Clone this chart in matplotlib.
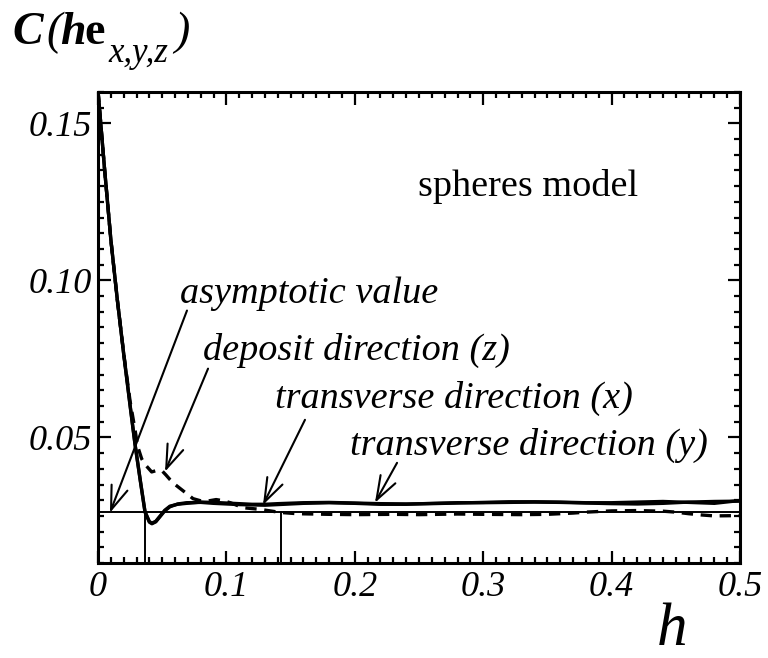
import numpy as np
import matplotlib
matplotlib.use("Agg")
import matplotlib.pyplot as plt
from matplotlib.ticker import MultipleLocator

plt.rcParams['font.family'] = ['Liberation Serif', 'DejaVu Serif']

# deposit direction (z), dashed
h_z = [0.0, 0.005, 0.010, 0.015, 0.020, 0.025, 0.0288, 0.031, 0.034, 0.0366, 0.0418, 0.046, 0.050,
       0.053, 0.056, 0.060, 0.065, 0.070, 0.074, 0.080, 0.085, 0.092, 0.098, 0.103, 0.113,
       0.126, 0.142, 0.155, 0.18, 0.20, 0.23, 0.25, 0.28, 0.30, 0.33, 0.35, 0.37, 0.38,
       0.40, 0.42, 0.44, 0.45, 0.46, 0.47, 0.48, 0.50]
c_z = [0.1604, 0.136, 0.113, 0.094, 0.0768, 0.0615, 0.0525, 0.0470, 0.0432, 0.0414, 0.0390, 0.0395, 0.0393,
       0.0380, 0.0366, 0.0350, 0.0334, 0.0318, 0.0305, 0.0298, 0.0297, 0.0302, 0.0298, 0.0292, 0.0276,
       0.0271, 0.0261, 0.0257, 0.0255, 0.0254, 0.0255, 0.0254, 0.0256, 0.0255, 0.0254, 0.0255, 0.0259, 0.0262,
       0.0266, 0.0267, 0.0265, 0.0262, 0.0257, 0.0253, 0.0250, 0.0251]

# transverse direction (x), solid
h_x = [0.0, 0.005, 0.010, 0.015, 0.020, 0.025, 0.0288, 0.033, 0.0366, 0.040, 0.042, 0.045, 0.048,
       0.052, 0.056, 0.062, 0.069, 0.08, 0.09, 0.10, 0.11, 0.12, 0.13, 0.14, 0.16, 0.18, 0.20,
       0.22, 0.24, 0.26, 0.28, 0.30, 0.32, 0.34, 0.36, 0.38, 0.40, 0.42, 0.44, 0.46, 0.48, 0.50]
c_x = [0.1604, 0.136, 0.113, 0.094, 0.0765, 0.0600, 0.0478, 0.0360, 0.0262, 0.0230, 0.0225, 0.0231,
       0.0246, 0.0266, 0.0279, 0.0288, 0.0292, 0.0293, 0.0290, 0.0288, 0.0286, 0.0285, 0.0284, 0.0286,
       0.0290, 0.0292, 0.0290, 0.0287, 0.0287, 0.0290, 0.0292, 0.0292, 0.0293, 0.0294, 0.0293, 0.0291,
       0.0289, 0.0288, 0.0290, 0.0294, 0.0296, 0.0297]

# transverse direction (y), solid
h_y = [0.0, 0.005, 0.010, 0.015, 0.020, 0.025, 0.0288, 0.033, 0.0366, 0.040, 0.042, 0.045, 0.048,
       0.052, 0.056, 0.062, 0.069, 0.08, 0.09, 0.10, 0.11, 0.12, 0.13, 0.14, 0.16, 0.18, 0.20,
       0.22, 0.24, 0.26, 0.28, 0.30, 0.32, 0.34, 0.36, 0.38, 0.40, 0.42, 0.44, 0.46, 0.48, 0.50]
c_y = [0.1604, 0.136, 0.113, 0.094, 0.0767, 0.0603, 0.0480, 0.0362, 0.0264, 0.0232, 0.0227, 0.0233,
       0.0248, 0.0268, 0.0281, 0.0287, 0.0290, 0.0294, 0.0293, 0.0291, 0.0289, 0.0287, 0.0287, 0.0289,
       0.0292, 0.0293, 0.0291, 0.0289, 0.0288, 0.0289, 0.0291, 0.0293, 0.0295, 0.0295, 0.0294, 0.0292,
       0.0292, 0.0294, 0.0296, 0.0293, 0.0290, 0.0299]

asymptote = 0.0261
h_marks = [0.0366, 0.1423]

x_ticks = [0, 0.1, 0.2, 0.3, 0.4, 0.5]
x_labels = ["0", "0.1", "0.2", "0.3", "0.4", "0.5"]
y_ticks = [0.05, 0.10, 0.15]
y_labels = ["0.05", "0.10", "0.15"]

fig = plt.figure(figsize=(7.68, 6.58), dpi=100)
ax = fig.add_axes([98/768, 1-563/658, 642/768, 471/658])

ax.plot(h_z, c_z, color='black', lw=2.4, ls=(0, (3.4, 2.3)))
ax.plot(h_x, c_x, color='black', lw=2.4)
ax.plot(h_y, c_y, color='black', lw=2.4)

ax.axhline(asymptote, color='black', lw=1.4)
for hm in h_marks:
    ax.plot([hm, hm], [0.01, asymptote], color='black', lw=1.4)

ax.set_xlim(0, 0.5)
ax.set_ylim(0.01, 0.16)
ax.set_xticks(x_ticks, x_labels, fontstyle='italic', fontsize=26)
ax.set_yticks(y_ticks, y_labels, fontstyle='italic', fontsize=26)
ax.xaxis.set_minor_locator(MultipleLocator(0.01))
ax.yaxis.set_minor_locator(MultipleLocator(0.005))
ax.tick_params(which='both', direction='in', top=True, right=True, width=1.6)
ax.tick_params(which='major', length=9)
ax.tick_params(which='minor', length=4.5)
ax.tick_params(axis='x', pad=6)
ax.tick_params(axis='y', pad=4)
for sp in ax.spines.values():
    sp.set_linewidth(2.2)

# annotations
arrows = [
    ("asymptotic value", (0.0639, 0.0929), (0.0693, 0.0904), (0.0093, 0.0260)),
    ("deposit direction (z)", (0.0818, 0.0747), (0.0857, 0.0719), (0.0522, 0.0391)),
    ("transverse direction (x)", (0.1379, 0.0594), (0.1612, 0.0556), (0.1285, 0.0285)),
    ("transverse direction (y)", (0.1963, 0.0445), (0.2329, 0.0419), (0.2157, 0.0292)),
]
for txt, pos, tail, head in arrows:
    ax.text(pos[0], pos[1], txt, fontsize=27.5, fontstyle='italic', va='baseline', ha='left')
    ax.annotate('', xy=head, xytext=tail,
                arrowprops=dict(arrowstyle='->,head_length=0.9,head_width=0.32',
                                lw=1.5, color='black', shrinkA=0, shrinkB=0,
                                mutation_scale=19))

ax.text(0.2492, 0.127, "spheres model", fontsize=27.5, va='baseline', ha='left')

# y label pieces
def fpx(x, y):
    return x/768, 1 - y/658

fig.text(*fpx(12, 44), "C", fontsize=33, fontstyle='italic', fontweight='bold', va='baseline')
fig.text(*fpx(46, 44), "(", fontsize=33, fontstyle='italic', va='baseline')
fig.text(*fpx(60, 44), "h", fontsize=33, fontstyle='italic', fontweight='bold', va='baseline')
fig.text(*fpx(84, 44), "e", fontsize=33, fontweight='bold', va='baseline')
fig.text(*fpx(108, 62), "x,y,z", fontsize=25, fontstyle='italic', va='baseline')
fig.text(*fpx(174, 44), ")", fontsize=33, fontstyle='italic', va='baseline')

fig.text(*fpx(672, 645), "h", fontsize=44, fontstyle='italic', va='baseline', ha='center')

fig.savefig("out.png", dpi=100)
